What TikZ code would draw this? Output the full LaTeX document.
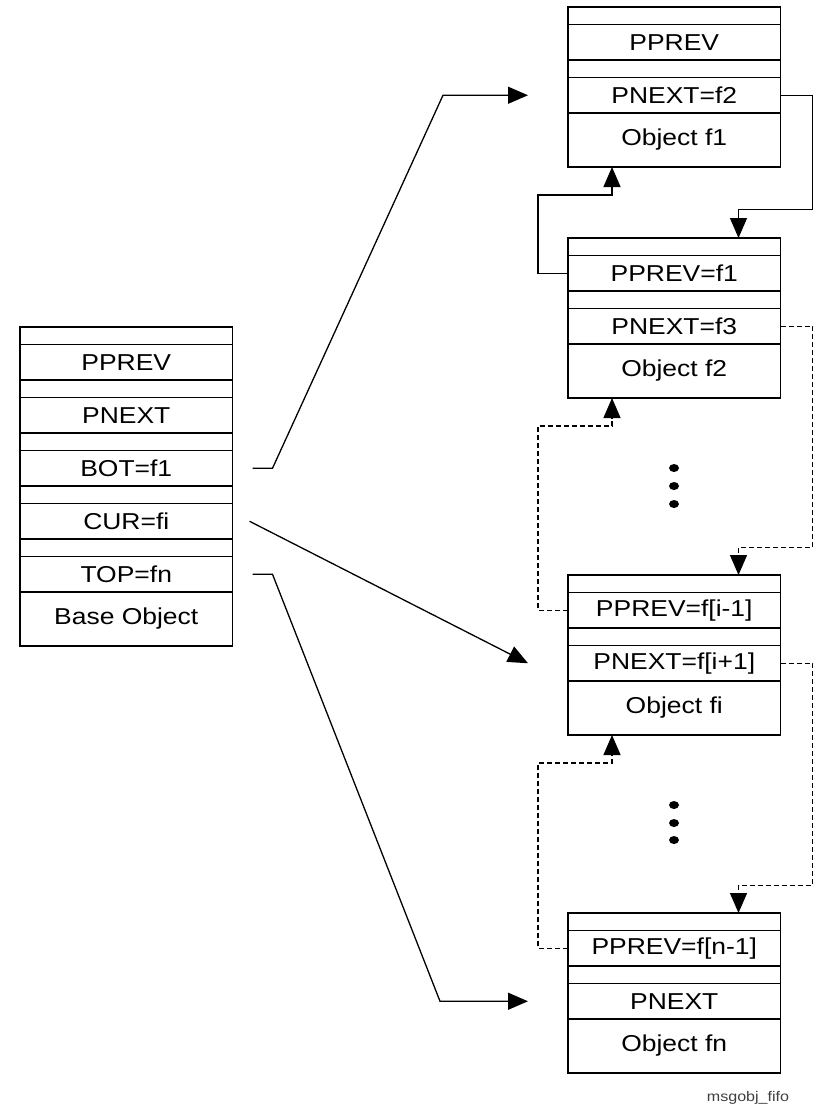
\documentclass[tikz,border=0pt]{standalone}
\usepackage{fontspec}
\setmainfont{Liberation Sans}[FakeStretch=1.15]
\usetikzlibrary{positioning, arrows.meta}
\tikzset{
->, % every link ends in an arrow
>={Triangle[length=20pt,width=17pt]}, % big filled heads
field/.style={draw, line width=1.4pt, minimum width=212.5pt, minimum height=35.5pt,
  inner sep=0pt, outer sep=0pt, font=\fontsize{23}{27}\selectfont}, % one row of a record
gap/.style={field, minimum height=17.5pt}, % thin empty row
body/.style={field, minimum height=54pt}, % object part at the bottom
link/.style={line width=1.3pt},
back/.style={link, dash pattern=on 5pt off 3pt},
}

\begin{document}
\begin{tikzpicture}[x=1pt, y=-1pt]
\useasboundingbox (0,0) rectangle (827,1116);

% base object
\node[gap, anchor=north west] (b0) at (20,327) {};
\node[field, below=0pt of b0] (bprev) {PPREV};
\node[gap, below=0pt of bprev] (b1) {};
\node[field, below=0pt of b1] (bnext) {PNEXT};
\node[gap, below=0pt of bnext] (b2) {};
\node[field, below=0pt of b2] (bbot) {BOT=f1};
\node[gap, below=0pt of bbot] (b3) {};
\node[field, below=0pt of b3] (bcur) {CUR=fi};
\node[gap, below=0pt of bcur] (b4) {};
\node[field, below=0pt of b4] (btop) {TOP=fn};
\node[body, below=0pt of btop] (bobj) {Base Object};

% object f1
\node[gap, anchor=north west] (f1g0) at (568,7) {};
\node[field, below=0pt of f1g0] (f1prev) {PPREV};
\node[gap, below=0pt of f1prev] (f1g1) {};
\node[field, below=0pt of f1g1] (f1next) {PNEXT=f2};
\node[body, below=0pt of f1next] (f1obj) {Object f1};

% object f2
\node[gap, anchor=north west] (f2g0) at (568,238) {};
\node[field, below=0pt of f2g0] (f2prev) {PPREV=f1};
\node[gap, below=0pt of f2prev] (f2g1) {};
\node[field, below=0pt of f2g1] (f2next) {PNEXT=f3};
\node[body, below=0pt of f2next] (f2obj) {Object f2};

% object fi
\node[gap, anchor=north west] (fig0) at (568,575) {};
\node[field, below=0pt of fig0] (fiprev) {PPREV=f[i-1]};
\node[gap, below=0pt of fiprev] (fig1) {};
\node[field, below=0pt of fig1] (finext) {PNEXT=f[i+1]};
\node[body, below=0pt of finext] (fiobj) {Object fi};

% object fn
\node[gap, anchor=north west] (fng0) at (568,913) {};
\node[field, below=0pt of fng0] (fnprev) {PPREV=f[n-1]};
\node[gap, below=0pt of fnprev] (fng1) {};
\node[field, below=0pt of fng1] (fnnext) {PNEXT};
\node[body, below=0pt of fnnext] (fnobj) {Object fn};

\node[font=\fontsize{14}{16}\selectfont, text=black!75] (tag) at (748,1098) {msgobj\_fifo};

% pointers of the base object
\draw[link] ([xshift=20pt]bbot.east) -- ++(20,0) -- ([xshift=-125pt]f1next.west) -- ([xshift=-40pt]f1next.west);
\draw[link] ([xshift=17pt]bcur.east) -- ([xshift=-40pt]finext.west);
\draw[link] ([xshift=20pt]btop.east) -- ++(20,0) -- ([xshift=-128pt]fnnext.west) -- ([xshift=-40pt]fnnext.west);

% next / prev links
\draw[link] (f1next.east) -- ++(32,0) -- ++(0,114) -| ([xshift=-42pt]f2g0.north east);
\draw[link] (f2prev.west) -- ++(-30,0) |- ([xshift=44pt, yshift=-28pt]f1obj.south west) -- ([xshift=44pt]f1obj.south west);
\draw[back] (f2next.east) -- ++(32,0) -- ++(0,221) -| ([xshift=-42pt]fig0.north east);
\draw[back] (fiprev.west) -- ++(-30,0) |- ([xshift=44pt, yshift=-28pt]f2obj.south west) -- ([xshift=44pt]f2obj.south west);
\draw[back] (finext.east) -- ++(32,0) -- ++(0,222) -| ([xshift=-42pt]fng0.north east);
\draw[back] (fnprev.west) -- ++(-30,0) |- ([xshift=44pt, yshift=-28pt]fiobj.south west) -- ([xshift=44pt]fiobj.south west);

% skipped objects
\foreach \y in {468,486,504,805,823,840}
  \fill (674,\y) ellipse (5 and 4);
\end{tikzpicture}
\end{document}
